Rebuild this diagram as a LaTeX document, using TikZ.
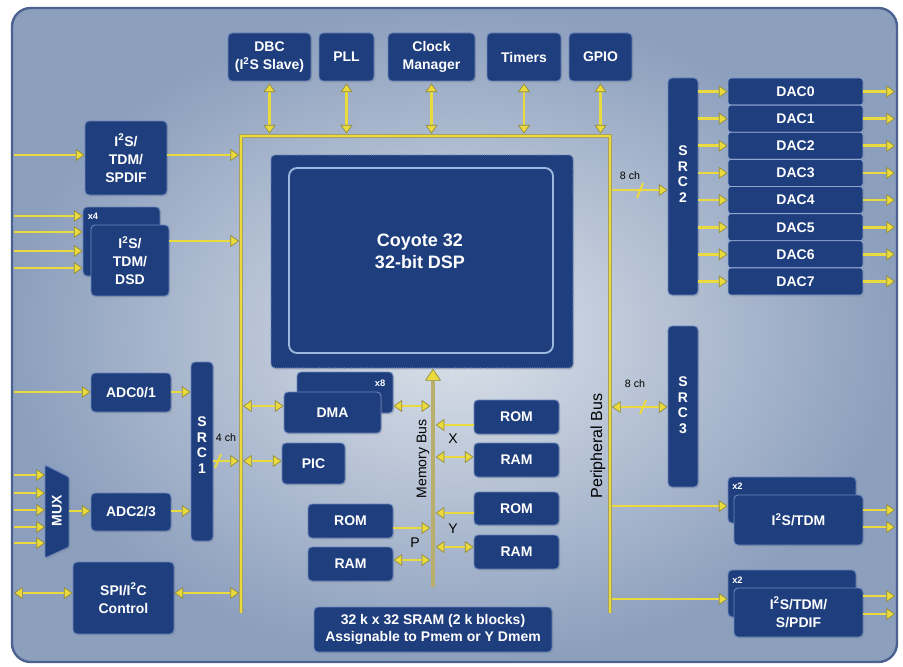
\documentclass[tikz,border=0pt]{standalone}
\usepackage{fontspec}
\setmainfont{Liberation Sans}
\usetikzlibrary{arrows.meta,shadows}
\definecolor{blkc}{HTML}{1F3E7E}
\definecolor{blkb}{HTML}{6A85B8}
\definecolor{dacb}{HTML}{8FA6CE}
\definecolor{ylw}{HTML}{EADA3E}
\definecolor{olv}{HTML}{8F8A3C}
\definecolor{mbc}{HTML}{B8AE6E}
\definecolor{bgin}{HTML}{DCE2EA}
\definecolor{bgout}{HTML}{8C9FBD}
\definecolor{bgedge}{HTML}{4C6392}
\definecolor{dspin}{HTML}{9DB8DE}
\newcommand\blkbox[5]{%
  \pgfmathsetmacro\mybw{(#3-#1)*0.75}%
  \pgfmathsetmacro\mybh{(#4-#2)*0.75}%
  \pgfmathsetmacro\mycx{(#1+#3)/2}%
  \pgfmathsetmacro\mycy{(#2+#4)/2}%
  \node[blk,minimum width=\mybw pt,minimum height=\mybh pt] (#5) at (\mycx,\mycy)}
\begin{document}
\begin{tikzpicture}[x=0.75pt,y=-0.75pt,
  >={Triangle[length=6.5pt,width=9pt,fill=ylw,color=olv,line width=0.5pt]},
  blk/.style={fill=blkc,draw=blkb,line width=0.7pt,rounded corners=3pt,inner sep=0pt,
     text=white,font=\bfseries\fontsize{10.5}{13.5}\selectfont,align=center,
     drop shadow={shadow xshift=1pt,shadow yshift=-1.2pt,opacity=0.25}},
  con/.style={draw=ylw,line width=2pt},
  bus/.style={draw=olv!80,double=ylw,double distance=2.2pt,line width=0.6pt},
  mbus/.style={draw=mbc,line width=3pt,-{Triangle[length=9pt,width=12pt,fill=ylw,color=olv,line width=0.5pt]}},
  small/.style={font=\fontsize{8}{9}\selectfont,inner sep=0pt},
  lbl/.style={font=\fontsize{10.5}{12}\selectfont,inner sep=0pt},
  tiny/.style={text=white,font=\bfseries\fontsize{7}{8}\selectfont,inner sep=0pt},
  vtext/.style={text=white,font=\bfseries\fontsize{10.5}{11.6}\selectfont,align=center,inner sep=0pt},
]
\useasboundingbox (0,0) rectangle (903,667);
% background
\fill[white] (0,0) rectangle (903,667);
\shade[inner color=bgin,outer color=bgout,rounded corners=14pt] (12,8) rectangle (897,662);
\draw[bgedge,line width=1.8pt,rounded corners=14pt] (12,8) rectangle (897,662);

% top blocks
\blkbox{228}{33}{311}{81}{dbc} {DBC\\(I\textsuperscript{2}S Slave)};
\blkbox{319}{33}{374}{81}{pll} {PLL};
\blkbox{388}{33}{475}{81}{clk} {Clock\\Manager};
\blkbox{487}{33}{561}{81}{tmr} {Timers};
\blkbox{569}{33}{632}{81}{gpio} {GPIO};

% DSP core
\blkbox{271}{155}{573}{368}{dsp} [densely dotted,line width=1pt,drop shadow={opacity=0}] {};
\draw[dspin,line width=1.4pt,rounded corners=6pt] (289,168) rectangle (553,353);
\node[text=white,font=\bfseries\fontsize{13.5}{16.5}\selectfont,align=center] (dspt) at (420,251) {Coyote 32\\32-bit DSP};

% left blocks
\blkbox{85}{121}{167}{195}{spdif} {I\textsuperscript{2}S/\\TDM/\\SPDIF};
\blkbox{83}{207}{160}{276}{i2sb} {};
\node[tiny] (x4) at (93,216) {x4};
\blkbox{91}{225}{169}{296}{i2sf} {I\textsuperscript{2}S/\\TDM/\\DSD};
\blkbox{91}{373}{171}{412}{adc01} {ADC0/1};
\blkbox{91}{493}{171}{531}{adc23} {ADC2/3};
\blkbox{191}{362}{213}{541}{src1} {};
\node[vtext] (src1t) at (202,445) {S\\R\\C\\1};
\blkbox{73}{562}{174}{634}{spi} {SPI/I\textsuperscript{2}C\\Control};
\filldraw[fill=blkc,draw=blkb,line width=0.7pt,rounded corners=1pt,drop shadow={shadow xshift=1pt,shadow yshift=-1.2pt,opacity=0.25}] (45,465) -- (69,477) -- (69,547) -- (45,558) -- cycle;
\node[text=white,font=\bfseries\fontsize{10.5}{12}\selectfont,rotate=90,inner sep=0pt] (mux) at (57,511) {MUX};
\coordinate (muxL) at (45,510);
\coordinate (muxR) at (69,511);

% middle blocks
\blkbox{297}{372}{393}{413}{dmab} {};
\node[tiny] (x8) at (380,383) {x8};
\blkbox{284}{392}{381}{433}{dmaf} {DMA};
\blkbox{282}{443}{345}{484}{pic} {PIC};
\blkbox{474}{400}{559}{434}{romx} {ROM};
\blkbox{474}{443}{559}{477}{ramx} {RAM};
\blkbox{474}{492}{559}{525}{romy} {ROM};
\blkbox{474}{535}{559}{569}{ramy} {RAM};
\blkbox{308}{504}{393}{538}{romp} {ROM};
\blkbox{308}{547}{393}{581}{ramp} {RAM};
\blkbox{314}{607}{552}{652}{sram} [font=\bfseries\fontsize{10.5}{13}\selectfont] {32 k x 32 SRAM (2 k blocks)\\Assignable to Pmem or Y Dmem};

% right blocks
\blkbox{668}{78}{698}{295}{src2} {};
\node[vtext] (src2t) at (683,174) {S\\R\\C\\2};
\foreach \i in {0,...,7} {
  \pgfmathsetmacro\ya{78+27.125*\i}
  \pgfmathsetmacro\yb{78+27.125*(\i+1)}
  \blkbox{728}{\ya}{863}{\yb}{dac\i} [rounded corners=2pt,draw=dacb] {DAC\i};
}
\blkbox{668}{326}{698}{487}{src3} {};
\node[vtext] (src3t) at (683,405) {S\\R\\C\\3};
\blkbox{728}{477}{856}{523}{tdmb} {};
\node[tiny,anchor=west] (x2a) at (732,486) {x2};
\blkbox{734}{495}{863}{545}{tdmf} {I\textsuperscript{2}S/TDM};
\blkbox{728}{570}{856}{617}{spdb} {};
\node[tiny,anchor=west] (x2b) at (732,580) {x2};
\blkbox{734}{588}{863}{637}{spdf} [font=\bfseries\fontsize{10.5}{14}\selectfont] {I\textsuperscript{2}S/TDM/\\S/PDIF};

% buses
\coordinate (busTL) at (241,136);
\coordinate (busTR) at (610,136);
\coordinate (busBL) at (241,613);
\coordinate (busBR) at (610,613);
\draw[bus] (busBL) -- (busTL) -- (busTR) -- (busBR);
\coordinate (mb) at (433,587);
\draw[mbus] (mb) -- (mb |- dsp.south);
\node[lbl,rotate=90] (mbl) at (423,459) {Memory Bus};
\node[font=\fontsize{12}{14}\selectfont,inner sep=0pt,rotate=90] (pbl) at (598,446) {Peripheral Bus};
\coordinate (E) at (895,0);

% top connectors
\foreach \n in {dbc,pll,clk,tmr,gpio}
  \draw[con,<->] ([yshift=-1.5pt]\n.south) -- ([yshift=1.8pt]\n.south |- busTL);

% left connectors
\coordinate (a1) at (14,155);
\draw[con,->] (a1) -- (a1 -| spdif.west);
\draw[con,->] (a1 -| spdif.east) -- ([xshift=-1.5pt]a1 -| busTL);
\foreach \y in {216,232,251,268} {
  \coordinate (t) at (14,\y);
  \draw[con,->] (t) -- (t -| i2sb.west);
}
\coordinate (a2) at (14,241);
\draw[con,->] (a2 -| i2sf.east) -- ([xshift=-1.5pt]a2 -| busTL);
\coordinate (a3) at (14,392);
\draw[con,->] (a3) -- (a3 -| adc01.west);
\draw[con,->] (a3 -| adc01.east) -- (a3 -| src1.west);
\foreach \y in {475,493,510,527,543} {
  \coordinate (t) at (14,\y);
  \draw[con,->] (t) -- (t -| muxL);
}
\coordinate (a4) at (0,511);
\draw[con,->] (a4 -| muxR) -- (a4 -| adc23.west);
\draw[con,->] (a4 -| adc23.east) -- (a4 -| src1.west);
\coordinate (a5) at (0,461);
\draw[con,->] (a5 -| src1.east) -- ([xshift=-1.5pt]a5 -| busTL);
\draw[con,line width=1.5pt] (215,468) -- (221,454);
\node[small] (ch4) at (226,438) {4 ch};
\draw[con,<->] ([xshift=1.5pt]a5 -| busTL) -- (a5 -| pic.west);
\coordinate (a6) at (0,406);
\draw[con,<->] ([xshift=1.5pt]a6 -| busTL) -- (a6 -| dmaf.west);
\draw[con,<->] (a6 -| dmab.east) -- ([xshift=-2pt]a6 -| mb);
\coordinate (a7) at (14,593);
\draw[con,<->] (a7) -- (a7 -| spi.west);
\draw[con,<->] (a7 -| spi.east) -- ([xshift=-1.5pt]a7 -| busTL);

% memory connectors
\coordinate (m1) at (0,425);
\draw[con,->] (m1 -| romx.west) -- ([xshift=2pt]m1 -| mb);
\coordinate (m2) at (0,457);
\draw[con,<->] ([xshift=2pt]m2 -| mb) -- (m2 -| ramx.west);
\coordinate (m3) at (0,513);
\draw[con,->] (m3 -| romy.west) -- ([xshift=2pt]m3 -| mb);
\coordinate (m4) at (0,547);
\draw[con,<->] ([xshift=2pt]m4 -| mb) -- (m4 -| ramy.west);
\coordinate (m5) at (0,528);
\draw[con,->] (m5 -| romp.east) -- ([xshift=-2pt]m5 -| mb);
\coordinate (m6) at (0,560);
\draw[con,<->] (m6 -| ramp.east) -- ([xshift=-2pt]m6 -| mb);
\node[lbl] (lx) at (453,439) {X};
\node[lbl] (ly) at (453,529) {Y};
\node[lbl] (lp) at (415,543) {P};

% right connectors
\coordinate (b1) at (0,190);
\draw[con,->] ([xshift=1.5pt]b1 -| busTR) -- (b1 -| src2.west);
\draw[con,line width=1.5pt] (637,198) -- (643,183);
\node[small] (ch8a) at (630,176) {8 ch};
\coordinate (b2) at (0,407);
\draw[con,<->] ([xshift=1.5pt]b2 -| busTR) -- (b2 -| src3.west);
\draw[con,line width=1.5pt] (640,414) -- (646,400);
\node[small] (ch8b) at (635,384) {8 ch};
\foreach \i in {0,...,7} {
  \draw[con,->] (src2.east |- dac\i.west) -- (dac\i.west);
  \draw[con,->] (dac\i.east) -- (dac\i.east -| E);
}
\coordinate (b3) at (0,506);
\draw[con,->] ([xshift=1.5pt]b3 -| busTR) -- (b3 -| tdmb.west);
\foreach \y in {510,527} {
  \coordinate (t) at (0,\y);
  \draw[con,->] (t -| tdmf.east) -- (t -| E);
}
\coordinate (b4) at (0,599);
\draw[con,->] ([xshift=1.5pt]b4 -| busTR) -- (b4 -| spdb.west);
\foreach \y in {596,614} {
  \coordinate (t) at (0,\y);
  \draw[con,->] (t -| spdf.east) -- (t -| E);
}
\end{tikzpicture}
\end{document}
